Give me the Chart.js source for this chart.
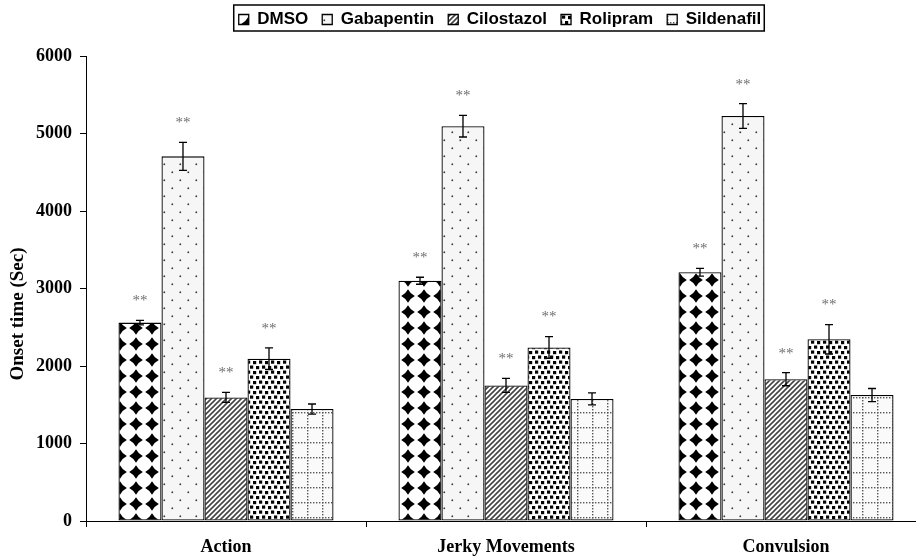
<!DOCTYPE html>
<html>
<head>
<meta charset="utf-8">
<script src="https://cdn.jsdelivr.net/npm/chart.js@4.4.1/dist/chart.umd.min.js"></script>
<style>
  html, body { margin: 0; padding: 0; background: #fff; overflow: hidden; }
  #wrap { width: 916px; height: 557px; overflow: hidden; }
</style>
</head>
<body>
<div id="wrap"><canvas id="c" width="930" height="557"></canvas></div>
<script>
// ---- data ----
const categories = ['Action', 'Jerky Movements', 'Convulsion'];
const seriesNames = ['DMSO', 'Gabapentin', 'Cilostazol', 'Rolipram', 'Sildenafil'];
const dmso = [2560, 3100, 3210];
const dmsoErr = [30, 45, 50];
const gabapentin = [4705, 5095, 5225];
const gabapentinErr = [180, 140, 160];
const cilostazol = [1595, 1750, 1830];
const cilostazolErr = [65, 90, 85];
const rolipram = [2095, 2240, 2345];
const rolipramErr = [140, 140, 190];
const sildenafil = [1445, 1575, 1625];
const sildenafilErr = [65, 77, 85];
const significance = ['**', '**', '**', '**', ''];
const yTicks = [0, 1000, 2000, 3000, 4000, 5000, 6000];
const yTitle = 'Onset time (Sec)';

const serif = "'Liberation Serif', 'Times New Roman', serif";
const sans = "'Liberation Sans', Arial, sans-serif";

// ---- patterns ----
function makePattern(w, h, draw) {
  const c = document.createElement('canvas');
  c.width = w; c.height = h;
  const g = c.getContext('2d');
  draw(g, w, h);
  return document.createElement('canvas').getContext('2d').createPattern(c, 'repeat');
}
const patDMSO = makePattern(16, 16, (g) => {
  g.fillStyle = '#fff'; g.fillRect(0, 0, 16, 16);
  g.fillStyle = '#000';
  g.beginPath();
  g.moveTo(8, 1.2);
  g.quadraticCurveTo(10.3, 5.7, 14.8, 8);
  g.quadraticCurveTo(10.3, 10.3, 8, 14.8);
  g.quadraticCurveTo(5.7, 10.3, 1.2, 8);
  g.quadraticCurveTo(5.7, 5.7, 8, 1.2);
  g.fill();
});
const patGaba = makePattern(16, 16, (g) => {
  g.fillStyle = '#f6f6f6'; g.fillRect(0, 0, 16, 16);
  g.fillStyle = '#333';
  g.fillRect(3.5, 3.5, 1.6, 1.6);
  g.fillRect(11.5, 11.5, 1.6, 1.6);
});
const patCilo = makePattern(5, 5, (g) => {
  g.fillStyle = '#fff'; g.fillRect(0, 0, 5, 5);
  g.strokeStyle = '#444'; g.lineWidth = 1.6;
  g.beginPath();
  g.moveTo(-1, 6); g.lineTo(6, -1);
  g.moveTo(-1, 1); g.lineTo(1, -1);
  g.moveTo(4, 6); g.lineTo(6, 4);
  g.stroke();
});
const patRoli = makePattern(12, 10, (g) => {
  g.fillStyle = '#fff'; g.fillRect(0, 0, 12, 10);
  g.fillStyle = '#000';
  g.fillRect(1, 1, 3.2, 3.2);
  g.fillRect(7, 0.5, 3.2, 3.2);
  g.fillRect(4, 6, 3.2, 3.2);
  g.fillRect(10, 5.5, 3.2, 3.2);
  g.fillRect(-2, 5.5, 3.2, 3.2);
});
const patSild = makePattern(15, 15, (g) => {
  g.fillStyle = '#fafafa'; g.fillRect(0, 0, 15, 15);
  g.fillStyle = '#555';
  for (let k = 1; k < 15; k += 3) {
    g.fillRect(7, k, 1.4, 1.4);
    g.fillRect(k, 7, 1.4, 1.4);
  }
});
const patterns = [patDMSO, patGaba, patCilo, patRoli, patSild];
const values = [dmso, gabapentin, cilostazol, rolipram, sildenafil];
const errors = [dmsoErr, gabapentinErr, cilostazolErr, rolipramErr, sildenafilErr];

const datasets = seriesNames.map((name, i) => ({
  label: name,
  data: values[i],
  errors: errors[i],
  stars: significance[i],
  backgroundColor: patterns[i],
  borderColor: '#000',
  borderWidth: 1.3,
  borderSkipped: false,
  categoryPercentage: 0.768,
  barPercentage: 1.0
}));

const decorPlugin = {
  id: 'decor',
  beforeInit(chart) {
    const lg = chart.legend;
    if (lg) {
      const origFit = lg.fit.bind(lg);
      lg.fit = function () { origFit(); this.height += 13; };
    }
  },
  afterLayout(chart) {
    const lg = chart.legend;
    if (lg) { lg.left += 74; lg.top -= 5; lg.bottom -= 5; }
  },
  afterDatasetsDraw(chart) {
    const ctx = chart.ctx;
    const y = chart.scales.y;
    ctx.save();
    chart.data.datasets.forEach((ds, di) => {
      const meta = chart.getDatasetMeta(di);
      meta.data.forEach((bar, j) => {
        const v = ds.data[j], e = ds.errors[j];
        const yt = y.getPixelForValue(v + e);
        const yb = y.getPixelForValue(v - e);
        const x = bar.x;
        ctx.strokeStyle = '#000';
        ctx.lineWidth = 1.3;
        ctx.beginPath();
        ctx.moveTo(x, yt); ctx.lineTo(x, yb);
        ctx.moveTo(x - 4, yt); ctx.lineTo(x + 4, yt);
        ctx.moveTo(x - 4, yb); ctx.lineTo(x + 4, yb);
        ctx.stroke();
        if (ds.stars) {
          ctx.fillStyle = '#6e6e6e';
          ctx.font = "15px " + serif;
          ctx.textAlign = 'center';
          ctx.textBaseline = 'middle';
          ctx.fillText(ds.stars, x, yt - 19);
        }
      });
    });
    ctx.restore();
  },
  afterDraw(chart) {
    const ctx = chart.ctx;
    // y axis title
    ctx.save();
    ctx.fillStyle = '#000';
    ctx.font = "bold 19px " + serif;
    ctx.textAlign = 'center';
    ctx.textBaseline = 'middle';
    ctx.translate(18, 314);
    ctx.rotate(-Math.PI / 2);
    ctx.fillText(yTitle, 0, 0);
    ctx.restore();
    // legend frame
    const lg = chart.legend;
    if (!lg || !lg.legendHitBoxes || !lg.legendHitBoxes.length) return;
    const hb = lg.legendHitBoxes;
    let l = Infinity, r = -Infinity, t = Infinity, b = -Infinity;
    hb.forEach(h => { l = Math.min(l, h.left); r = Math.max(r, h.left + h.width); t = Math.min(t, h.top); b = Math.max(b, h.top + h.height); });
    ctx.save();
    ctx.strokeStyle = '#000';
    ctx.lineWidth = 1.5;
    ctx.strokeRect(l - 5, t - 6, (r - l) + 8, (b - t) + 9);
    ctx.restore();
  }
};

new Chart(document.getElementById('c'), {
  type: 'bar',
  data: { labels: categories, datasets },
  options: {
    responsive: false,
    animation: false,
    layout: { padding: { top: 2, left: 0, right: 4, bottom: 0 } },
    plugins: {
      legend: {
        position: 'top',
        labels: {
          boxWidth: 10,
          boxHeight: 10,
          padding: 14,
          color: '#000',
          font: { family: sans, size: 17, weight: 'bold' }
        }
      },
      tooltip: { enabled: false }
    },
    scales: {
      x: {
        afterFit(scale) { scale.height = 36; },
        grid: { display: true, drawOnChartArea: false, offset: true, color: '#000', tickLength: 6, tickWidth: 1 },
        border: { display: true, color: '#000', width: 1 },
        ticks: { color: '#000', padding: 10, maxRotation: 0, font: { family: serif, size: 18, weight: 'bold' } }
      },
      y: {
        min: 0,
        max: 6000,
        afterFit(scale) { scale.width = 86; },
        afterBuildTicks(scale) { scale.ticks = yTicks.map(v => ({ value: v })); },
        grid: { display: true, drawOnChartArea: false, color: '#000', tickLength: 6, tickWidth: 1 },
        border: { display: true, color: '#000', width: 1 },
        ticks: { color: '#000', padding: 8, callback: (v) => String(v), font: { family: serif, size: 18, weight: 'bold' } },
        title: { display: false }
      }
    }
  },
  plugins: [decorPlugin]
});
</script>
</body>
</html>
